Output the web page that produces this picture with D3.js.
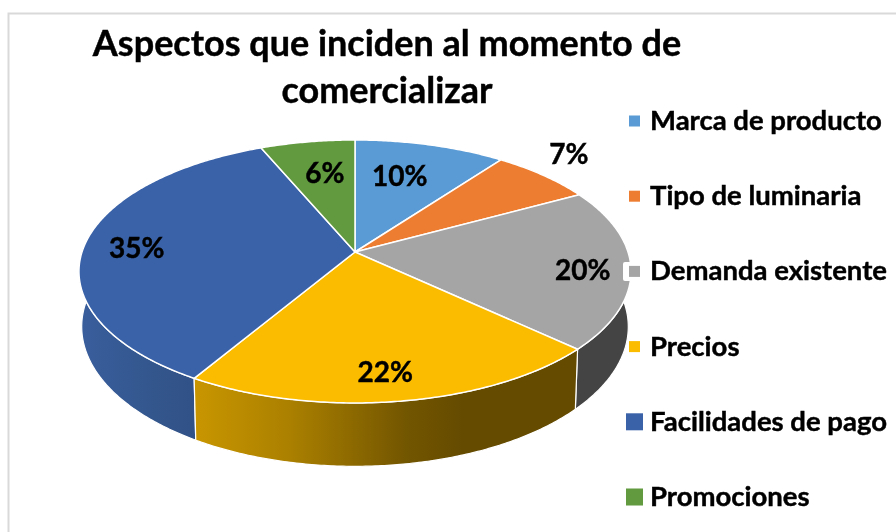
<!DOCTYPE html>
<html lang="es">
<head>
  <meta charset="UTF-8">
  <style>
    html,body { margin:0; padding:0; background:#fff; }
    svg { display:block; filter:blur(0.4px); }
    text { font-family:Lato, "Open Sans", sans-serif; font-weight:700; fill:#000; stroke:#000; stroke-width:0.45px; }
  </style>
  <script src="https://d3js.org/d3.v7.min.js"></script>
</head>
<body>
  <svg id="chart" width="896" height="532"></svg>

  <script>
    const categories = ['Marca de producto', 'Tipo de luminaria', 'Demanda existente', 'Precios', 'Facilidades de pago', 'Promociones'];
    const values = [10.2, 6.9, 19.8, 21.7, 35, 6.4];
    const colors = ['#5b9bd5', '#ed7d31', '#a5a5a5', '#fbbc00', '#3a62a8', '#619a3f'];
    const titleLines = ['Aspectos que inciden al momento de', 'comercializar'];

    const svg = d3.select('#chart');
    const defs = svg.append('defs');

    // chart frame
    svg.append('path')
      .attr('d', 'M8.5,532V13.5H896')
      .attr('fill', 'none')
      .attr('stroke', '#d9d9d9')
      .attr('stroke-width', 2);

    // the pie is tilted, so a point on the circle goes through a small perspective
    const cx = 355, cy = 252, rx = 273, ry = 128.6, persp = 0.148, depth = 54;
    const project = (angle, r) => {
      const w = 1 + persp * r * Math.cos(angle);
      return [cx + rx * r * Math.sin(angle) / w, cy - ry * r * Math.cos(angle) / w, w];
    };
    const topRim = a => { const p = project(a, 1); return [p[0], p[1]]; };
    const bottomRim = a => {
      const p = project(a, 1);
      return [cx + (p[0] - cx) * 0.99, p[1] + depth / p[2]];
    };
    const line = d3.line();
    const arcAngles = d => d3.range(d.startAngle, d.endAngle, 0.01).concat([d.endAngle]);

    const pie = d3.pie().sort(null).value(d => d);
    const slices = pie(values);

    // side walls, only the ones facing us
    const wallShades = {
      2: [[0, '#444444'], [1, '#444444']],
      3: [[0, '#c99600'], [0.25, '#ab8000'], [0.55, '#735600'], [0.7, '#654b00'], [1, '#654b00']],
      4: [[0, '#2f4f85'], [0.45, '#33568d'], [1, '#395e9c']]
    };
    Object.keys(wallShades).forEach(i => {
      const grad = defs.append('linearGradient')
        .attr('id', 'wall' + i)
        .attr('x1', i == 4 ? 0.75 : 0).attr('x2', i == 4 ? 0 : 1)
        .attr('y1', 0).attr('y2', 0);
      wallShades[i].forEach(s => grad.append('stop').attr('offset', s[0]).attr('stop-color', s[1]));
    });

    svg.append('g')
      .selectAll('path')
      .data([2, 4, 3])
      .enter()
      .append('path')
      .attr('d', i => {
        const as = arcAngles(slices[i]);
        return line(as.map(topRim).concat(as.slice().reverse().map(bottomRim))) + 'Z';
      })
      .attr('fill', i => 'url(#wall' + i + ')')
      .attr('stroke', '#fff')
      .attr('stroke-width', 1.2)
      .attr('stroke-linejoin', 'round');

    // top faces
    svg.append('g')
      .selectAll('path')
      .data(slices)
      .enter()
      .append('path')
      .attr('d', d => line([[cx, cy]].concat(arcAngles(d).map(topRim))) + 'Z')
      .attr('fill', (d, i) => colors[i])
      .attr('stroke', '#fff')
      .attr('stroke-width', 1.5)
      .attr('stroke-linejoin', 'round');

    // percent labels, placed along each slice's mid angle
    const labelRadius = [0.672, 1.234, 0.829, 0.826, 0.804, 0.686];
    const labelShift = [-0.05, -0.06, 0.045, 0.023, -0.031, 0.023];
    const labelPos = (d, i) => project((d.startAngle + d.endAngle) / 2 + labelShift[i], labelRadius[i]);
    svg.append('g')
      .selectAll('text')
      .data(slices)
      .enter()
      .append('text')
      .attr('text-anchor', 'middle')
      .attr('font-size', 28)
      .attr('x', (d, i) => labelPos(d, i)[0])
      .attr('y', (d, i) => labelPos(d, i)[1] + 10)
      .text(d => Math.round(d.value) + '%');

    // title
    svg.append('g')
      .selectAll('text')
      .data(titleLines)
      .enter()
      .append('text')
      .attr('x', 387)
      .attr('y', (d, i) => 56 + i * 47)
      .attr('text-anchor', 'middle')
      .attr('font-size', 36)
      .text(d => d);

    // legend
    const bigKeys = ['Facilidades de pago', 'Promociones'];
    const legendY = d3.scalePoint().domain(categories).range([121, 497]);
    const keySize = d => bigKeys.includes(d) ? 17 : 11;

    // the legend box of "Demanda existente" bites a bit into the pie
    svg.append('rect')
      .attr('x', 623).attr('y', 262).attr('width', 24).attr('height', 19).attr('rx', 2)
      .attr('fill', '#fff');

    const legend = svg.append('g')
      .selectAll('g')
      .data(categories)
      .enter()
      .append('g')
      .attr('transform', d => `translate(0,${legendY(d)})`);

    legend.append('rect')
      .attr('x', d => 634.5 - keySize(d) / 2)
      .attr('y', d => -keySize(d) / 2)
      .attr('width', keySize)
      .attr('height', keySize)
      .attr('fill', (d, i) => colors[i]);

    legend.append('text')
      .attr('x', 650)
      .attr('y', 9)
      .attr('font-size', 27.5)
      .text(d => d);
  </script>
</body>
</html>
